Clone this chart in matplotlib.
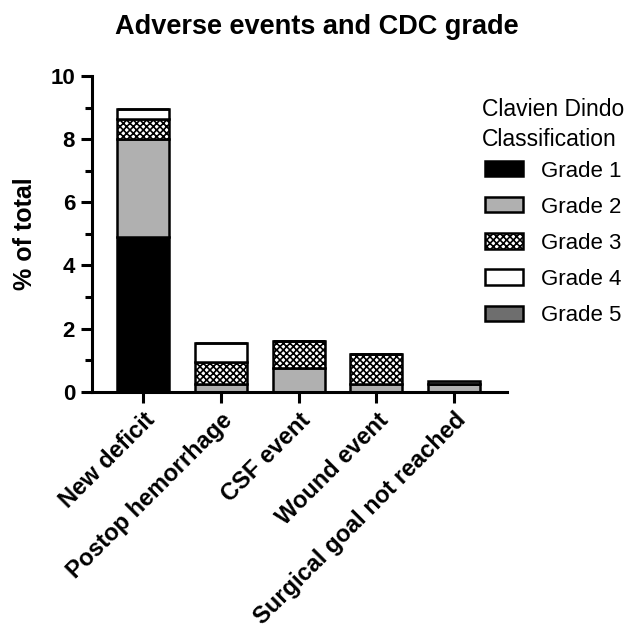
import matplotlib.pyplot as plt
import numpy as np
from matplotlib.patches import Patch

plt.rcParams["font.family"] = ["Liberation Sans", "DejaVu Sans"]
plt.rcParams["hatch.linewidth"] = 1.2

# datos (% del total)
categorias = ["New deficit", "Postop hemorrhage", "CSF event", "Wound event",
              "Surgical goal not reached"]
grado_1 = [4.9, 0.0, 0.0, 0.0, 0.0]
grado_2 = [3.1, 0.25, 0.75, 0.25, 0.25]
grado_3 = [0.65, 0.7, 0.85, 0.95, 0.0]
grado_4 = [0.3, 0.6, 0.0, 0.0, 0.0]
grado_5 = [0.0, 0.0, 0.0, 0.0, 0.1]

grados = [grado_1, grado_2, grado_3, grado_4, grado_5]
etiquetas = ["Grade 1", "Grade 2", "Grade 3", "Grade 4", "Grade 5"]
estilos = [
    {"facecolor": "black", "hatch": None},
    {"facecolor": "#b0b0b0", "hatch": None},
    {"facecolor": "white", "hatch": "xxxxx"},
    {"facecolor": "white", "hatch": None},
    {"facecolor": "#6e6e6e", "hatch": None},
]

fig = plt.figure(figsize=(6.33, 6.33), dpi=100)
ax = fig.add_axes([0.145, 0.381, 0.656, 0.499])

x = np.arange(len(categorias))
base = np.zeros(len(categorias))
for valores, estilo in zip(grados, estilos):
    valores = np.array(valores)
    ax.bar(x, valores, bottom=base, width=0.67, edgecolor="black",
           linewidth=1.8, facecolor=estilo["facecolor"], hatch=estilo["hatch"])
    base += valores

ax.set_xlim(-0.66, 4.68)
ax.set_ylim(0, 10)
ax.set_yticks([0, 2, 4, 6, 8, 10])
ax.set_yticks([1, 3, 5, 7, 9], minor=True)
ax.set_xticks(x)
ax.set_xticklabels(categorias, rotation=45, ha="right", rotation_mode="anchor",
                   fontsize=17, fontweight="bold")
for t in ax.get_yticklabels():
    t.set_fontsize(16)
    t.set_fontweight("bold")

for lado in ["top", "right"]:
    ax.spines[lado].set_visible(False)
for lado in ["left", "bottom"]:
    ax.spines[lado].set_linewidth(2.2)
ax.tick_params(axis="both", which="major", width=2.2, length=8, pad=4)
ax.tick_params(axis="y", which="minor", width=2.2, length=5)

ax.set_ylabel("% of total", fontsize=18, fontweight="bold")
ax.yaxis.set_label_coords(-0.131, 0.5)
fig.suptitle("Adverse events and CDC grade", fontsize=19.5, fontweight="bold",
             x=0.5, y=0.978)

# título de la leyenda como texto aparte, para controlar el interlineado
fig.text(0.7615, 1 - 98 / 633, "Clavien Dindo\nClassification", fontsize=16.5,
         ha="left", va="top", linespacing=1.4)

handles = [Patch(facecolor=e["facecolor"], edgecolor="black", linewidth=1.8,
                 hatch=e["hatch"], label=l) for e, l in zip(estilos, etiquetas)]
ley = fig.legend(handles=handles, loc="upper left",
                 bbox_to_anchor=(0.735, 0.778), frameon=False,
                 fontsize=16, labelspacing=0.68,
                 handlelength=1.7, handleheight=0.68, handletextpad=0.8)

fig.savefig("out.png", dpi=100)
